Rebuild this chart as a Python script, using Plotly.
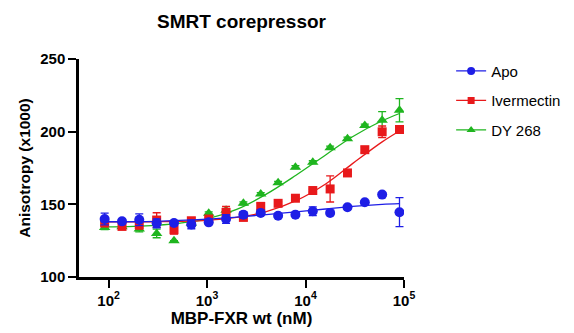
import plotly.graph_objects as go

# concentrations (nM), 1.5-fold dilution series
conc = [91.3, 137, 205, 308, 462, 693, 1040, 1560, 2340, 3510, 5270, 7900,
        11850, 17780, 26670, 40000, 60000, 90000]

apo = [139.9, 138.3, 139.4, 136.9, 137.1, 136.2, 137.6, 139.9, 142.9, 144.1,
       142.2, 142.9, 145.2, 144.1, 148.0, 151.4, 156.7, 144.6]
apo_err = [4, 1.5, 4, 3, 1.5, 3, 1, 3, 2, 1, 1, 1, 3, 1, 1, 1, 1, 10]

iver = [137.1, 134.8, 136.0, 139.2, 132.5, 138.7, 139.9, 144.5, 141.0, 148.6,
        150.7, 154.2, 159.5, 160.6, 171.6, 187.6, 199.9, 201.5]
iver_err = [2, 2, 3, 5, 3, 2, 1, 4, 2, 2, 1, 1, 1, 9, 1, 2, 4, 2]

dy = [134.1, 134.5, 133.0, 130.0, 125.0, 137.0, 143.8, 146.0, 150.7, 157.1,
      164.8, 175.6, 179.0, 189.0, 195.2, 204.2, 207.8, 214.7]
dy_err = [1.5, 1.5, 2, 3, 0, 1, 1, 1, 1, 1, 1, 1, 1, 1, 1, 1, 6, 8]

# fitted curve values
fit_x = [91.3, 300, 1000, 2000, 4000, 8000, 16000, 30000, 60000, 90000]
fit_apo = [138.0, 138.3, 139.8, 141.2, 142.9, 144.8, 146.8, 148.6, 150.0, 150.5]
fit_iver = [137.9, 138.0, 139.0, 141.0, 145.0, 152.5, 164.0, 178.0, 193.0, 200.5]
fit_dy = [134.5, 135.5, 140.0, 146.5, 157.0, 170.0, 184.0, 196.5, 207.5, 212.5]

series = [
    ("DY 268", dy, dy_err, fit_dy, "#1fb51f", "triangle-up", 10),
    ("Ivermectin", iver, iver_err, fit_iver, "#e8191b", "square", 9),
    ("Apo", apo, apo_err, fit_apo, "#1e1ee6", "circle", 10),
]

fig = go.Figure()
for name, ys, errs, fit, col, sym, sz in series:
    fig.add_trace(go.Scatter(x=fit_x, y=fit, mode="lines", line=dict(color=col, width=1.3, shape="spline"),
                             showlegend=False, hoverinfo="skip"))
    fig.add_trace(go.Scatter(x=conc, y=ys, mode="markers",
                             marker=dict(color=col, symbol=sym, size=sz),
                             error_y=dict(type="data", array=errs, color=col, thickness=1.3, width=4),
                             showlegend=False))

for i, name in enumerate(["Apo", "Ivermectin", "DY 268"]):
    s = [t for t in series if t[0] == name][0]
    fig.add_trace(go.Scatter(x=[None], y=[None], mode="lines+markers", name=name,
                             legendgroup="g%d" % i,
                             line=dict(color=s[4], width=1.3),
                             marker=dict(color=s[4], symbol=s[5], size=s[6] - 2)))

FAM = "Liberation Sans, Arial, sans-serif"
tick_font = dict(family=FAM, size=15, color="black")
fig.update_layout(
    width=574, height=333,
    margin=dict(l=79, r=170, t=59, b=56, autoexpand=False),
    paper_bgcolor="white", plot_bgcolor="white",
    title=dict(text="<b>SMRT corepressor</b>", x=0.5, xref="paper", y=0.935, yref="container",
               xanchor="center", yanchor="middle",
               font=dict(family=FAM, size=19, color="black")),
    font=dict(family=FAM, color="black"),
    legend=dict(x=1.145, y=1.02, xanchor="left", yanchor="top", tracegroupgap=7,
                font=dict(family=FAM, size=15, color="black"),
                bgcolor="rgba(0,0,0,0)"),
    showlegend=True,
)
fig.update_xaxes(type="log", range=[1.70, 5.0], showgrid=False, zeroline=False,
                 showline=True, linecolor="black", linewidth=2.5, automargin=False,
                 ticks="outside", ticklen=8, tickwidth=2.2, tickcolor="black",
                 tickvals=[100, 1000, 10000, 100000],
                 ticktext=["<b>10<sup>2</sup></b>", "<b>10<sup>3</sup></b>", "<b>10<sup>4</sup></b>", "<b>10<sup>5</sup></b>"],
                 tickfont=tick_font,
                 title=dict(text="<b>MBP-FXR wt (nM)</b>", font=dict(family=FAM, size=17, color="black"), standoff=4))
fig.update_yaxes(range=[100, 250], showgrid=False, zeroline=False,
                 showline=True, linecolor="black", linewidth=2.5, automargin=False,
                 ticks="outside", ticklen=8, tickwidth=2.2, tickcolor="black",
                 tickvals=[100, 150, 200, 250],
                 ticktext=["<b>100</b>", "<b>150</b>", "<b>200</b>", "<b>250</b>"],
                 tickfont=tick_font,
                 title=dict(text="<b>Anisotropy (x1000)</b>", font=dict(family=FAM, size=15.5, color="black"), standoff=6))

fig.write_html("out.html")
